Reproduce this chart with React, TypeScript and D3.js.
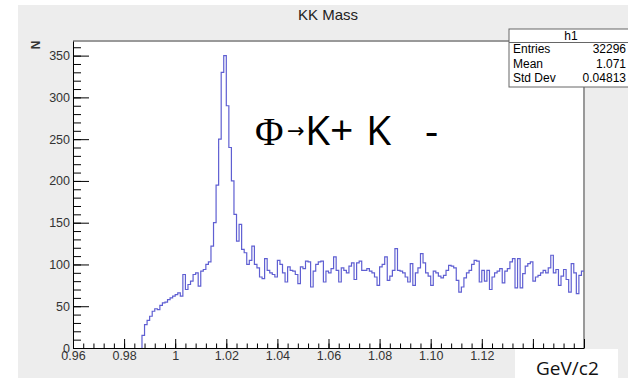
import React, { useEffect, useRef } from "react";
import * as d3 from "d3";

// histogram bins (0.001 GeV wide) starting at the KK threshold
const firstEdge = 0.987;
const binWidth = 0.001;
const counts = [
  15, 28, 33, 38, 44, 47, 46, 51, 54, 55, 58, 60, 62, 64, 66, 62, 88, 70, 76, 80,
  88, 90, 74, 92, 94, 100, 103, 122, 150, 195, 250, 330, 350, 290, 240, 200, 160, 128, 148, 118,
  114, 100, 105, 122, 100, 96, 85, 83, 107, 93, 90, 88, 85, 105, 100, 90, 79, 97, 93, 92,
  88, 77, 97, 95, 104, 103, 73, 92, 100, 103, 104, 79, 92, 90, 95, 109, 93, 79, 96, 93,
  90, 98, 102, 82, 102, 104, 93, 93, 95, 92, 90, 85, 75, 97, 100, 109, 81, 86, 93, 119,
  93, 92, 90, 85, 79, 101, 75, 90, 96, 113, 102, 90, 86, 75, 92, 90, 86, 84, 87, 93,
  99, 98, 96, 81, 67, 73, 84, 90, 93, 100, 105, 104, 79, 93, 80, 93, 70, 85, 90, 92,
  95, 78, 92, 95, 103, 107, 72, 107, 72, 89, 98, 101, 103, 80, 85, 87, 90, 93, 90, 96,
  111, 90, 94, 75, 86, 94, 82, 67, 101, 90, 65, 87, 92,
];

const xDomain = [0.96, 1.16];
const yDomain = [0, 367.5];
// 1.14 and 1.16 sit under the white unit box, so no label is drawn there
const xMajorTicks = [0.96, 0.98, 1.0, 1.02, 1.04, 1.06, 1.08, 1.1, 1.12, 1.14, 1.16];
const xTickLabels = ["0.96", "0.98", "1", "1.02", "1.04", "1.06", "1.08", "1.10", "1.12", "", ""];
const yMajorTicks = [0, 50, 100, 150, 200, 250, 300, 350];
const statNames = ["Entries", "Mean", "Std Dev"];
const statValues = ["32296", "1.071", "0.04813"];

const W = 628;
const H = 381;
const frame = { left: 73, right: 584, top: 41, bottom: 348 };

const App = () => {
  const ref = useRef<SVGSVGElement>(null);

  useEffect(() => {
    const svg = d3.select(ref.current);
    svg.selectAll("*").remove();

    const x = d3.scaleLinear().domain(xDomain).range([frame.left, frame.right]);
    const y = d3.scaleLinear().domain(yDomain).range([frame.bottom, frame.top]);

    svg.append("rect").attr("width", W).attr("height", H).attr("fill", "#ffffff");
    svg
      .append("rect")
      .attr("x", 18)
      .attr("y", 5)
      .attr("width", W - 18)
      .attr("height", 373)
      .attr("fill", "#ededed");

    // frame
    svg
      .append("rect")
      .attr("x", frame.left)
      .attr("y", frame.top)
      .attr("width", frame.right - frame.left)
      .attr("height", frame.bottom - frame.top)
      .attr("fill", "#ffffff");
    svg
      .append("path")
      .attr("d", `M${frame.left},${frame.top}H${frame.right}V${frame.bottom}`)
      .attr("fill", "none")
      .attr("stroke", "#999999")
      .attr("stroke-width", 2);

    // histogram as a step line
    const pts: [number, number][] = counts.map((c, i) => [firstEdge + i * binWidth, c]);
    pts.push([firstEdge + counts.length * binWidth, counts[counts.length - 1]]);
    const line = d3
      .line<[number, number]>()
      .x((d) => x(d[0]))
      .y((d) => y(d[1]))
      .curve(d3.curveStepAfter);
    svg
      .append("path")
      .datum([[firstEdge, 0] as [number, number], ...pts])
      .attr("fill", "none")
      .attr("stroke", "#5f5fd2")
      .attr("stroke-width", 1.2)
      .attr("d", line);

    // y axis
    const yMinor = d3.range(0, 370, 10);
    svg
      .append("g")
      .attr("transform", `translate(${frame.left},0)`)
      .call(d3.axisLeft(y).tickValues(yMinor).tickSize(-8).tickSizeOuter(0).tickFormat(() => ""))
      .call((g) => g.select(".domain").remove());
    const yAx = svg
      .append("g")
      .attr("transform", `translate(${frame.left},0)`)
      .call(d3.axisLeft(y).tickValues(yMajorTicks).tickSize(-16).tickSizeOuter(0).tickPadding(3));
    yAx.selectAll("text").style("font-family", "Liberation Sans, Arial").style("font-size", "12.5px").attr("fill", "#333");

    // x axis
    const xMinor = d3.range(0, 51).map((i) => 0.96 + i * 0.004);
    svg
      .append("g")
      .attr("transform", `translate(0,${frame.bottom})`)
      .call(d3.axisBottom(x).tickValues(xMinor).tickSize(-4.5).tickSizeOuter(0).tickFormat(() => ""))
      .call((g) => g.select(".domain").remove());
    const xAx = svg
      .append("g")
      .attr("transform", `translate(0,${frame.bottom})`)
      .call(
        d3
          .axisBottom(x)
          .tickValues(xMajorTicks)
          .tickSize(-9)
          .tickSizeOuter(0)
          .tickPadding(3)
          .tickFormat((d, i) => xTickLabels[i])
      );
    xAx.selectAll("text").style("font-family", "Liberation Sans, Arial").style("font-size", "12.5px").attr("fill", "#333");
    svg.selectAll(".domain").attr("stroke", "#000");
    svg.selectAll(".tick line").attr("stroke", "#000");

    // title and axis title
    svg
      .append("text")
      .attr("x", 328)
      .attr("y", 20)
      .attr("text-anchor", "middle")
      .style("font-family", "Liberation Sans, Arial")
      .style("font-size", "15px")
      .attr("fill", "#222")
      .text("KK Mass");
    svg
      .append("text")
      .attr("transform", "translate(40,45) rotate(-90)")
      .attr("text-anchor", "middle")
      .style("font-family", "Liberation Sans, Arial")
      .style("font-size", "12px")
      .style("font-weight", "bold")
      .attr("fill", "#333")
      .text("N");

    // stats box
    const sb = svg.append("g");
    sb.append("rect")
      .attr("x", 509)
      .attr("y", 29)
      .attr("width", 130)
      .attr("height", 58)
      .attr("fill", "#fff")
      .attr("stroke", "#666");
    sb.append("line").attr("x1", 509).attr("x2", 628).attr("y1", 42.5).attr("y2", 42.5).attr("stroke", "#666");
    sb.append("text")
      .attr("x", 571)
      .attr("y", 40)
      .attr("text-anchor", "middle")
      .style("font-family", "Liberation Sans, Arial")
      .style("font-size", "12px")
      .text("h1");
    statNames.forEach((n, i) => {
      sb.append("text")
        .attr("x", 513)
        .attr("y", 53 + i * 14.5)
        .style("font-family", "Liberation Sans, Arial")
        .style("font-size", "12px")
        .text(n);
      sb.append("text")
        .attr("x", 626)
        .attr("y", 53 + i * 14.5)
        .attr("text-anchor", "end")
        .style("font-family", "Liberation Sans, Arial")
        .style("font-size", "12px")
        .text(statValues[i]);
    });

    // annotation
    const ann = svg.append("text").attr("y", 145).attr("fill", "#000");
    ann.append("tspan").attr("x", 255).style("font-family", "Liberation Serif, serif").style("font-size", "39px").text("Φ");
    ann.append("tspan").attr("x", 287).attr("dy", -7).style("font-family", "DejaVu Sans").style("font-size", "21px").text("→");
    ann.append("tspan").attr("x", 305).attr("dy", 7).style("font-family", "Open Sans").style("font-size", "41px").text("K+");
    ann.append("tspan").attr("x", 366).style("font-family", "Open Sans").style("font-size", "41px").text("K");
    ann.append("tspan").attr("x", 425).style("font-family", "Open Sans").style("font-size", "41px").text("-");

    // unit label box
    svg.append("rect").attr("x", 515).attr("y", 349).attr("width", 103).attr("height", 32).attr("fill", "#fff");
    svg
      .append("text")
      .attr("x", 536)
      .attr("y", 375)
      .style("font-family", "Open Sans")
      .style("font-size", "19px")
      .attr("fill", "#111")
      .text("GeV/c2");
  }, []);

  return <svg ref={ref} width={W} height={H} style={{ position: "absolute", left: 0, top: 0 }} />;
};

export default App;
